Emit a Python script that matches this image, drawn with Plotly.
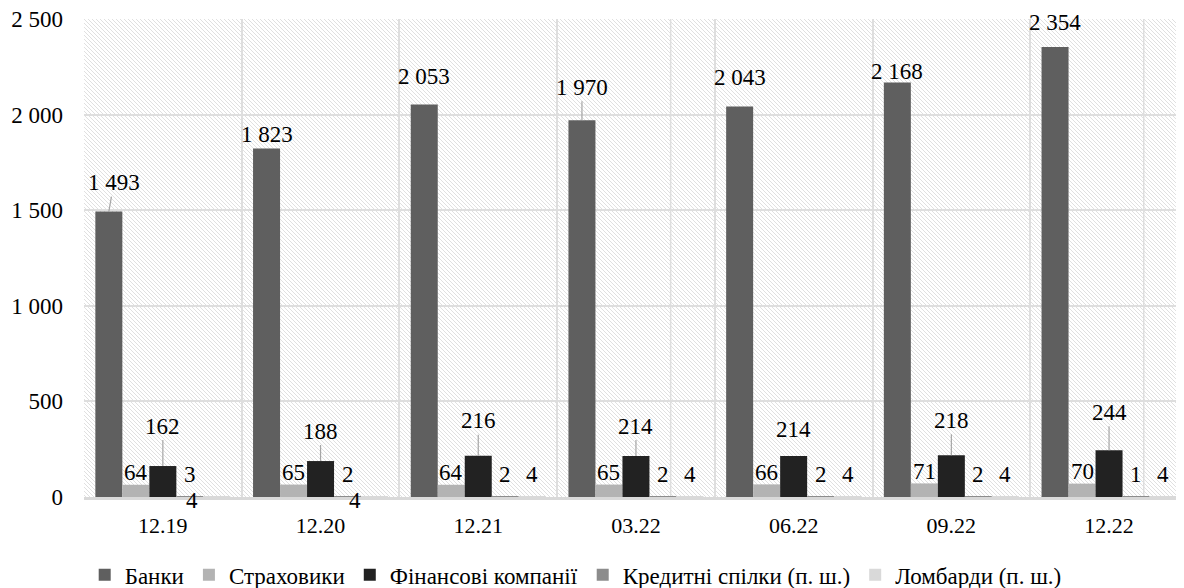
import base64
import plotly.graph_objects as go

# ---------------- data ----------------
categories = ["12.19", "12.20", "12.21", "03.22", "06.22", "09.22", "12.22"]
banks = [1493, 1823, 2053, 1970, 2043, 2168, 2354]
insurers = [64, 65, 64, 65, 66, 71, 70]
fin_companies = [162, 188, 216, 214, 214, 218, 244]
credit_unions = [3, 2, 2, 2, 2, 2, 1]
pawnshops = [4, 4, 4, 4, 4, 4, 4]

series_names = ["Банки", "Страховики", "Фінансові компанії",
                "Кредитні спілки (п. ш.)", "Ломбарди (п. ш.)"]
series_values = [banks, insurers, fin_companies, credit_unions, pawnshops]
y_ticks = [0, 500, 1000, 1500, 2000, 2500]

# ---------------- style ----------------
colors = ["#5f5f5f", "#b3b3b3", "#222222", "#8c8c8c", "#d9d9d9"]
FONT = "Liberation Serif, 'Times New Roman', serif"
BARGAP = 0.144
# page body has an 8px margin, so the figure is drawn at (8, 8)
W, H = 1176, 580
ML, MR, MT, MB = 76, 0, 11, 91
LEADER = "#a6a6a6"

# label offsets (pixels): (dx, dy up, leader line?)
label_style = [
    # banks
    [(5, 29, True), (0, 14, False), (0, 28, False), (0, 33, True), (0, 29, False), (0, 11, False), (0, 24, False)],
    # insurers
    [(0, 12, False)] * 7,
    # financial companies
    [(0, 40, True), (0, 30, True), (0, 35, True), (0, 30, True), (0, 27, False), (0, 35, True), (0, 38, True)],
    # credit unions
    [(0, 22, False)] * 7,
    # pawnshops
    [(-25, -4, False), (-20, -4, False)] + [(0, 22, False)] * 5,
]

def fmt(v):
    return f"{v:,}".replace(",", " ")

fig = go.Figure()
for name, vals, col in zip(series_names, series_values, colors):
    fig.add_trace(go.Bar(name=name, x=categories, y=vals, marker_color=col,
                         marker_line_width=0, hoverinfo="skip"))

n_series = len(series_values)
bar_w = (1 - BARGAP) / n_series
annotations = []
for k, vals in enumerate(series_values):
    for i, v in enumerate(vals):
        dx, dy, line = label_style[k][i]
        annotations.append(dict(
            x=i + (k - (n_series - 1) / 2) * bar_w, y=v, xref="x", yref="y",
            text=fmt(v), showarrow=True, ax=dx, ay=-dy,
            arrowhead=0, arrowwidth=1.2,
            arrowcolor=LEADER if line else "rgba(0,0,0,0)",
            font=dict(family=FONT, size=23, color="#000000"),
        ))

# hatch background for the plot area
pw, ph = W - ML - MR, H - MT - MB
svg = (f"<svg xmlns='http://www.w3.org/2000/svg' width='{pw}' height='{ph}' viewBox='0 0 {pw} {ph}'>"
       "<rect width='100%' height='100%' fill='#ffffff'/>"
       "<defs><pattern id='p' width='4' height='4' patternUnits='userSpaceOnUse'>"
       "<path d='M0,0 L4,4 M-1,3 L1,5 M3,-1 L5,1' stroke='#dcdcdc' stroke-width='0.9'/>"
       "</pattern></defs><rect width='100%' height='100%' fill='url(#p)'/></svg>")
src = "data:image/svg+xml;base64," + base64.b64encode(svg.encode()).decode()

# vertical lines at category centres (gridlines at boundaries come from the axis)
shapes = [dict(type="line", xref="x", yref="paper", x0=c, x1=c, y0=0, y1=1,
               line=dict(color="#dedede", width=1.5), layer="below") for c in categories]

span = pw / 157.7
fig.update_layout(
    width=W, height=H,
    margin=dict(l=ML, r=MR, t=MT, b=MB, autoexpand=False),
    paper_bgcolor="white", plot_bgcolor="white",
    barmode="group", bargap=BARGAP, bargroupgap=0,
    font=dict(family=FONT, size=22, color="#000000"),
    separators=", ",
    images=[dict(source=src, xref="paper", yref="paper", x=0, y=1, sizex=1, sizey=1,
                 xanchor="left", yanchor="top", sizing="stretch", layer="below")],
    shapes=shapes,
    annotations=annotations,
    showlegend=True,
    legend=dict(orientation="h", x=0.447, xanchor="center", y=-0.163, yanchor="middle",
                font=dict(family=FONT, size=23), bgcolor="rgba(0,0,0,0)",
                traceorder="normal", itemclick=False, itemwidth=30),
    xaxis=dict(type="category", range=[-0.5, -0.5 + span], tickson="boundaries",
               showgrid=True, gridcolor="#dedede", gridwidth=1.5,
               showline=True, linecolor="#d9d9d9", linewidth=2.5,
               ticks="", ticklabelstandoff=7, tickfont=dict(family=FONT, size=22),
               fixedrange=True, automargin=False),
    yaxis=dict(range=[0, 2500], tickvals=y_ticks, tickformat=",d",
               showgrid=True, gridcolor="#dedede", gridwidth=1.5,
               zeroline=False, showline=False, ticks="", ticklabelstandoff=20,
               ticklabeloverflow="allow",
               tickfont=dict(family=FONT, size=23), fixedrange=True, automargin=False),
)

fig.write_html("out.html")
